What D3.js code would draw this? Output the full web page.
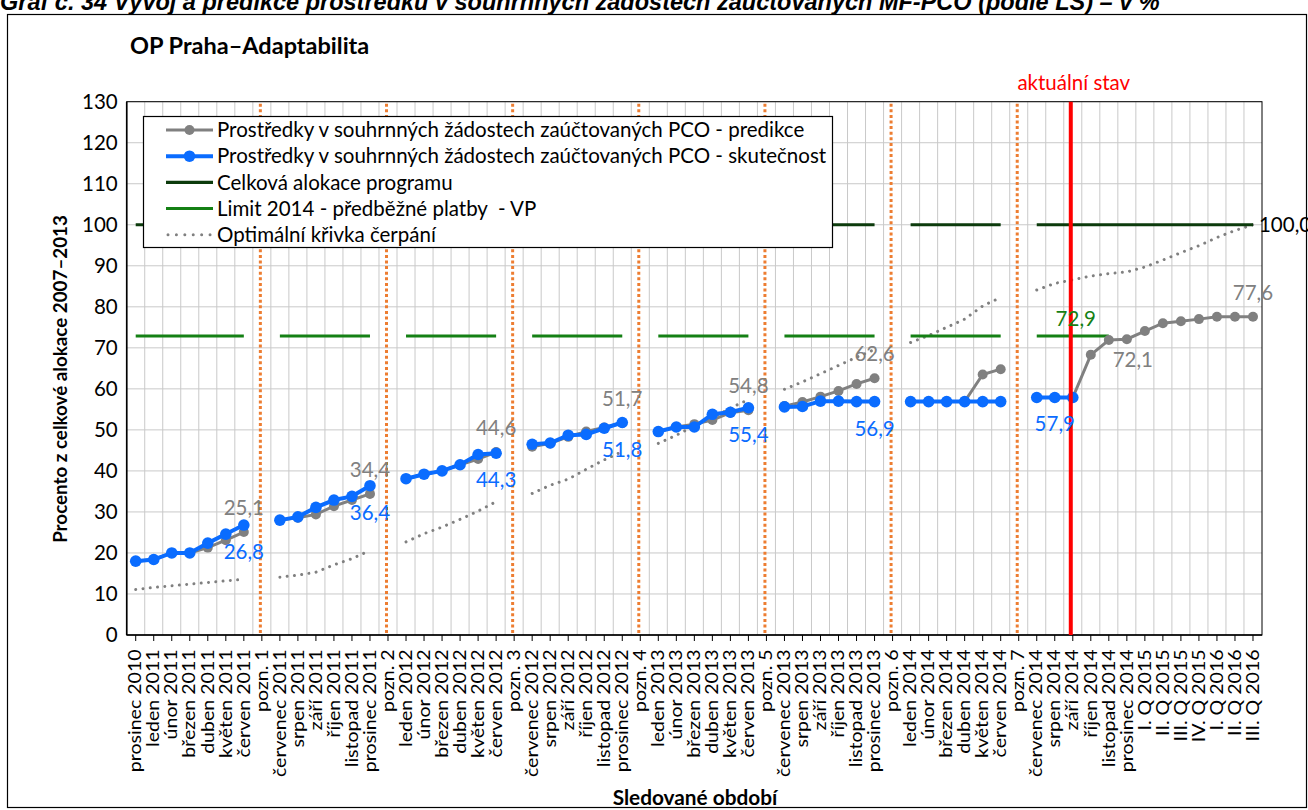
<!DOCTYPE html>
<html><head><meta charset="utf-8">
<script src="https://cdn.jsdelivr.net/npm/d3@7"></script>
<style>
body{margin:0;background:#fff}
text{font-family:Lato,'Open Sans',sans-serif}
</style>
</head><body>
<svg id="c" width="1308" height="810"></svg>
<script>
const categories = ["prosinec 2010","leden 2011","únor 2011","březen 2011","duben 2011","květen 2011","červen 2011","pozn. 1",
"červenec 2011","srpen 2011","září 2011","říjen 2011","listopad 2011","prosinec 2011","pozn. 2",
"leden 2012","únor 2012","březen 2012","duben 2012","květen 2012","červen 2012","pozn. 3",
"červenec 2012","srpen 2012","září 2012","říjen 2012","listopad 2012","prosinec 2012","pozn. 4",
"leden 2013","únor 2013","březen 2013","duben 2013","květen 2013","červen 2013","pozn. 5",
"červenec 2013","srpen 2013","září 2013","říjen 2013","listopad 2013","prosinec 2013","pozn. 6",
"leden 2014","únor 2014","březen 2014","duben 2014","květen 2014","červen 2014","pozn. 7",
"červenec 2014","srpen 2014","září 2014","říjen 2014","listopad 2014","prosinec 2014",
"I. Q 2015","II. Q 2015","III. Q 2015","IV. Q 2015","I. Q 2016","II. Q 2016","III. Q 2016"];

const prediction = [18.0,18.4,20.0,20.0,21.3,23.1,25.1,null,
28.0,28.6,29.4,31.4,32.9,34.4,null,
38.1,39.2,40.0,41.5,42.9,44.6,null,
45.9,46.7,48.3,49.6,50.6,51.7,null,
49.6,50.7,51.4,52.4,54.2,54.8,null,
55.8,56.8,58.1,59.5,61.2,62.6,null,
56.9,56.9,56.9,56.9,63.5,64.8,null,
57.9,57.9,57.9,68.3,71.9,72.1,
74.1,76.0,76.5,77.0,77.6,77.6,77.6];

const actual = [18.0,18.4,20.0,20.0,22.4,24.6,26.8,null,
28.0,28.8,31.1,32.9,33.8,36.4,null,
38.1,39.2,40.0,41.5,44.0,44.3,null,
46.5,46.8,48.7,48.9,50.4,51.8,null,
49.6,50.7,50.7,53.8,54.3,55.4,null,
55.6,55.7,57.0,57.0,56.9,56.9,null,
56.9,56.9,56.9,56.9,56.9,56.9,null,
57.9,57.9,57.9,null,null,null,
null,null,null,null,null,null,null];

const allocation = [100,100,100,100,100,100,100,null,
100,100,100,100,100,100,null,
100,100,100,100,100,100,null,
100,100,100,100,100,100,null,
100,100,100,100,100,100,null,
100,100,100,100,100,100,null,
100,100,100,100,100,100,null,
100,100,100,100,100,100,
100,100,100,100,100,100,100];

const limit2014 = [72.9,72.9,72.9,72.9,72.9,72.9,72.9,null,
72.9,72.9,72.9,72.9,72.9,72.9,null,
72.9,72.9,72.9,72.9,72.9,72.9,null,
72.9,72.9,72.9,72.9,72.9,72.9,null,
72.9,72.9,72.9,72.9,72.9,72.9,null,
72.9,72.9,72.9,72.9,72.9,72.9,null,
72.9,72.9,72.9,72.9,72.9,72.9,null,
72.9,72.9,72.9,72.9,72.9,null,
null,null,null,null,null,null,null];

const optimal = [11.1,11.6,12.0,12.4,12.8,13.2,13.6,null,
14.1,14.6,15.3,17.1,18.6,20.6,null,
22.7,24.7,26.3,28.2,30.2,32.5,null,
34.5,36.5,38.0,40.4,42.7,44.7,null,
46.7,48.7,51.0,53.0,55.3,57.4,null,
59.9,61.7,63.7,65.7,67.7,69.6,null,
71.3,73.0,75.0,77.0,80.2,82.3,null,
84.1,85.7,86.6,87.5,88.1,88.5,
89.7,91.4,93.2,94.9,96.9,98.6,100.0];

const noteCategories = ["pozn. 1","pozn. 2","pozn. 3","pozn. 4","pozn. 5","pozn. 6","pozn. 7"];
const currentCategory = "září 2014";
const yTicks = [0,10,20,30,40,50,60,70,80,90,100,110,120,130];

const predLabelCats = ["červen 2011","prosinec 2011","červen 2012","prosinec 2012","červen 2013","prosinec 2013","prosinec 2014","III. Q 2016"];
const actualLabelCats = ["červen 2011","prosinec 2011","červen 2012","prosinec 2012","červen 2013","prosinec 2013","září 2014"];
const limitLabelCats = ["září 2014"];
const allocationLabelCats = ["III. Q 2016"];

const seriesNames = ["Prostředky v souhrnných žádostech zaúčtovaných PCO - predikce",
"Prostředky v souhrnných žádostech zaúčtovaných PCO - skutečnost",
"Celková alokace programu",
"Limit 2014 - předběžné platby  - VP",
"Optimální křivka čerpání"];

const headerText = "Graf č. 34 Vývoj a predikce prostředků v souhrnných žádostech zaúčtovaných MF-PCO (podle LS) – v %";
const chartTitle = "OP Praha–Adaptabilita";
const yTitle = "Procento z celkové alokace 2007–2013";
const xTitle = "Sledované období";
const currentLabel = "aktuální stav";

// ---------- drawing ----------
const svg = d3.select("#c");
const L = 126.7, R = 1262, T = 101.7, B = 635;
const C = {gray:"#808080", blue:"#0a6cff", dark:"#0c3b0c", green:"#148014", orange:"#ed7d31", red:"#ff0000", grid:"#c9c9c9"};

const x = d3.scaleBand().domain(categories).range([L, R]).padding(0);
const cx = c => x(c) + x.bandwidth() / 2;
const y = d3.scaleLinear().domain([0, 130]).range([B, T]);
const fmt = v => d3.format(".1f")(v).replace(".", ",");

// header + frame
svg.append("text").attr("x", 0).attr("y", 10)
  .style("font-family", "'Liberation Sans',Arial,sans-serif").style("font-weight", "bold").style("font-style", "italic")
  .style("font-size", "23.5px").text(headerText);
svg.append("rect").attr("x", 7.5).attr("y", 14.5).attr("width", 1299).attr("height", 793)
  .attr("fill", "none").attr("stroke", "#000").attr("stroke-width", 1.2);

svg.append("text").attr("x", 130).attr("y", 54).style("font-weight", "bold").style("font-size", "23.5px").text(chartTitle);

// gridlines
const g = svg.append("g");
g.selectAll(".hg").data(yTicks.filter(d => d > 0)).join("line")
  .attr("x1", L).attr("x2", R).attr("y1", d => y(d)).attr("y2", d => y(d))
  .attr("stroke", C.grid).attr("stroke-width", 1);
g.selectAll(".vg").data(categories.slice(1)).join("line")
  .attr("x1", d => x(d)).attr("x2", d => x(d)).attr("y1", T).attr("y2", B)
  .attr("stroke", C.grid).attr("stroke-width", 1);

// plot border
svg.append("rect").attr("x", L).attr("y", T).attr("width", R - L).attr("height", B - T)
  .attr("fill", "none").attr("stroke", "#000").attr("stroke-width", 1);

// note lines
svg.selectAll(".note").data(noteCategories).join("line")
  .attr("x1", d => cx(d) - 1.5).attr("x2", d => cx(d) - 1.5).attr("y1", T + 2).attr("y2", B)
  .attr("stroke", C.orange).attr("stroke-width", 3).attr("stroke-dasharray", "3,2.6");

// axes
const yAxis = svg.append("g").attr("transform", `translate(${L},0)`)
  .call(d3.axisLeft(y).tickValues(yTicks).tickSize(0).tickPadding(9));
yAxis.select(".domain").remove();
yAxis.selectAll("text").style("font-size", "20.5px").style("font-family", "Lato,'Open Sans',sans-serif").attr("fill", "#000");

const xAxis = svg.append("g").attr("transform", `translate(0,${B})`)
  .call(d3.axisBottom(x).tickSize(6).tickSizeOuter(0));
xAxis.select(".domain").remove();
xAxis.selectAll("line").attr("stroke", "#000");
xAxis.selectAll("text")
  .attr("transform", "rotate(-90) scale(1.2,1)")
  .attr("x", -12).attr("y", 0).attr("dy", "0.35em")
  .attr("text-anchor", "end")
  .style("font-size", "16.3px").style("font-family", "Lato,'Open Sans',sans-serif").attr("fill", "#000");

svg.append("line").attr("x1", L).attr("x2", L).attr("y1", T).attr("y2", B).attr("stroke", "#000").attr("stroke-width", 1.6);
svg.append("line").attr("x1", L).attr("x2", R).attr("y1", B).attr("y2", B).attr("stroke", "#000").attr("stroke-width", 1.6);

// axis titles
svg.append("text").attr("transform", `translate(60,${379}) rotate(-90)`).attr("text-anchor", "middle").attr("dy", "0.35em")
  .style("font-weight", "bold").style("font-size", "18.8px").text(yTitle);
svg.append("text").attr("x", 695).attr("y", 805).attr("text-anchor", "middle")
  .style("font-weight", "bold").style("font-size", "20.8px").text(xTitle);

// series
const pts = arr => categories.map((c, i) => ({c, v: arr[i]}));
const line = d3.line().defined(d => d.v != null).x(d => cx(d.c)).y(d => y(d.v));

svg.append("path").datum(pts(optimal)).attr("d", line).attr("fill", "none")
  .attr("stroke", C.gray).attr("stroke-width", 3).attr("stroke-linecap", "round").attr("stroke-dasharray", "0.01,7.3");
svg.append("path").datum(pts(allocation)).attr("d", line).attr("fill", "none")
  .attr("stroke", C.dark).attr("stroke-width", 3.2);
svg.append("path").datum(pts(limit2014)).attr("d", line).attr("fill", "none")
  .attr("stroke", C.green).attr("stroke-width", 3);

function markerSeries(arr, col, lw, r) {
  const p = pts(arr);
  svg.append("path").datum(p).attr("d", line).attr("fill", "none").attr("stroke", col).attr("stroke-width", lw);
  svg.append("g").selectAll("circle").data(p.filter(d => d.v != null)).join("circle")
    .attr("cx", d => cx(d.c)).attr("cy", d => y(d.v)).attr("r", r).attr("fill", col);
}
markerSeries(prediction, C.gray, 3, 5);
markerSeries(actual, C.blue, 4, 5.8);

// current state line
svg.append("line").attr("x1", cx(currentCategory) - 2).attr("x2", cx(currentCategory) - 2).attr("y1", T).attr("y2", B)
  .attr("stroke", C.red).attr("stroke-width", 4);
svg.append("text").attr("x", cx(currentCategory) + 1).attr("y", 90).attr("text-anchor", "middle")
  .attr("fill", C.red).style("font-size", "20.5px").text(currentLabel);

// data labels
const val = (arr, c) => arr[categories.indexOf(c)];
const lab = svg.append("g").style("font-size", "20.5px");
predLabelCats.forEach(c => {
  const v = val(prediction, c);
  const below = c === "prosinec 2014";
  lab.append("text").attr("x", cx(c) + (below ? 6 : 0)).attr("y", y(v) + (below ? 28 : -17))
    .attr("text-anchor", "middle").attr("fill", C.gray).text(fmt(v));
});
actualLabelCats.forEach(c => {
  const v = val(actual, c);
  const shift = c === currentCategory ? -18 : 0;
  lab.append("text").attr("x", cx(c) + shift).attr("y", y(v) + 34)
    .attr("text-anchor", "middle").attr("fill", C.blue).text(fmt(v));
});
limitLabelCats.forEach(c => {
  const v = val(limit2014, c);
  lab.append("text").attr("x", cx(c) + 3).attr("y", y(v) - 9.5)
    .attr("text-anchor", "middle").attr("fill", C.green).text(fmt(v));
});
allocationLabelCats.forEach(c => {
  const v = val(allocation, c);
  lab.append("text").attr("x", cx(c) + 6).attr("y", y(v)).attr("dy", "0.35em")
    .attr("text-anchor", "start").attr("fill", "#000").text(fmt(v));
});

// legend
const lg = svg.append("g");
lg.append("rect").attr("x", 143.5).attr("y", 116.5).attr("width", 689).attr("height", 131)
  .attr("fill", "#fff").attr("stroke", "#000").attr("stroke-width", 1.2);
const legendStyles = [
  {col: C.gray, w: 3, r: 5, dash: null},
  {col: C.blue, w: 4, r: 5.8, dash: null},
  {col: C.dark, w: 3.2, r: 0, dash: null},
  {col: C.green, w: 3, r: 0, dash: null},
  {col: C.gray, w: 3, r: 0, dash: "0.01,8.4"}
];
seriesNames.forEach((name, i) => {
  const yy = 130 + i * 26.2;
  const s = legendStyles[i];
  const ln = lg.append("line").attr("x1", 166).attr("x2", 213).attr("y1", yy).attr("y2", yy)
    .attr("stroke", s.col).attr("stroke-width", s.w);
  if (s.dash) ln.attr("stroke-dasharray", s.dash).attr("stroke-linecap", "round").attr("x1", 168);
  if (s.r) lg.append("circle").attr("cx", 189.5).attr("cy", yy).attr("r", s.r).attr("fill", s.col);
  lg.append("text").attr("x", 217).attr("y", yy).attr("dy", "0.35em").style("font-size", "20.5px")
    .style("white-space", "pre").attr("xml:space", "preserve").text(name);
});
</script>
</body></html>
